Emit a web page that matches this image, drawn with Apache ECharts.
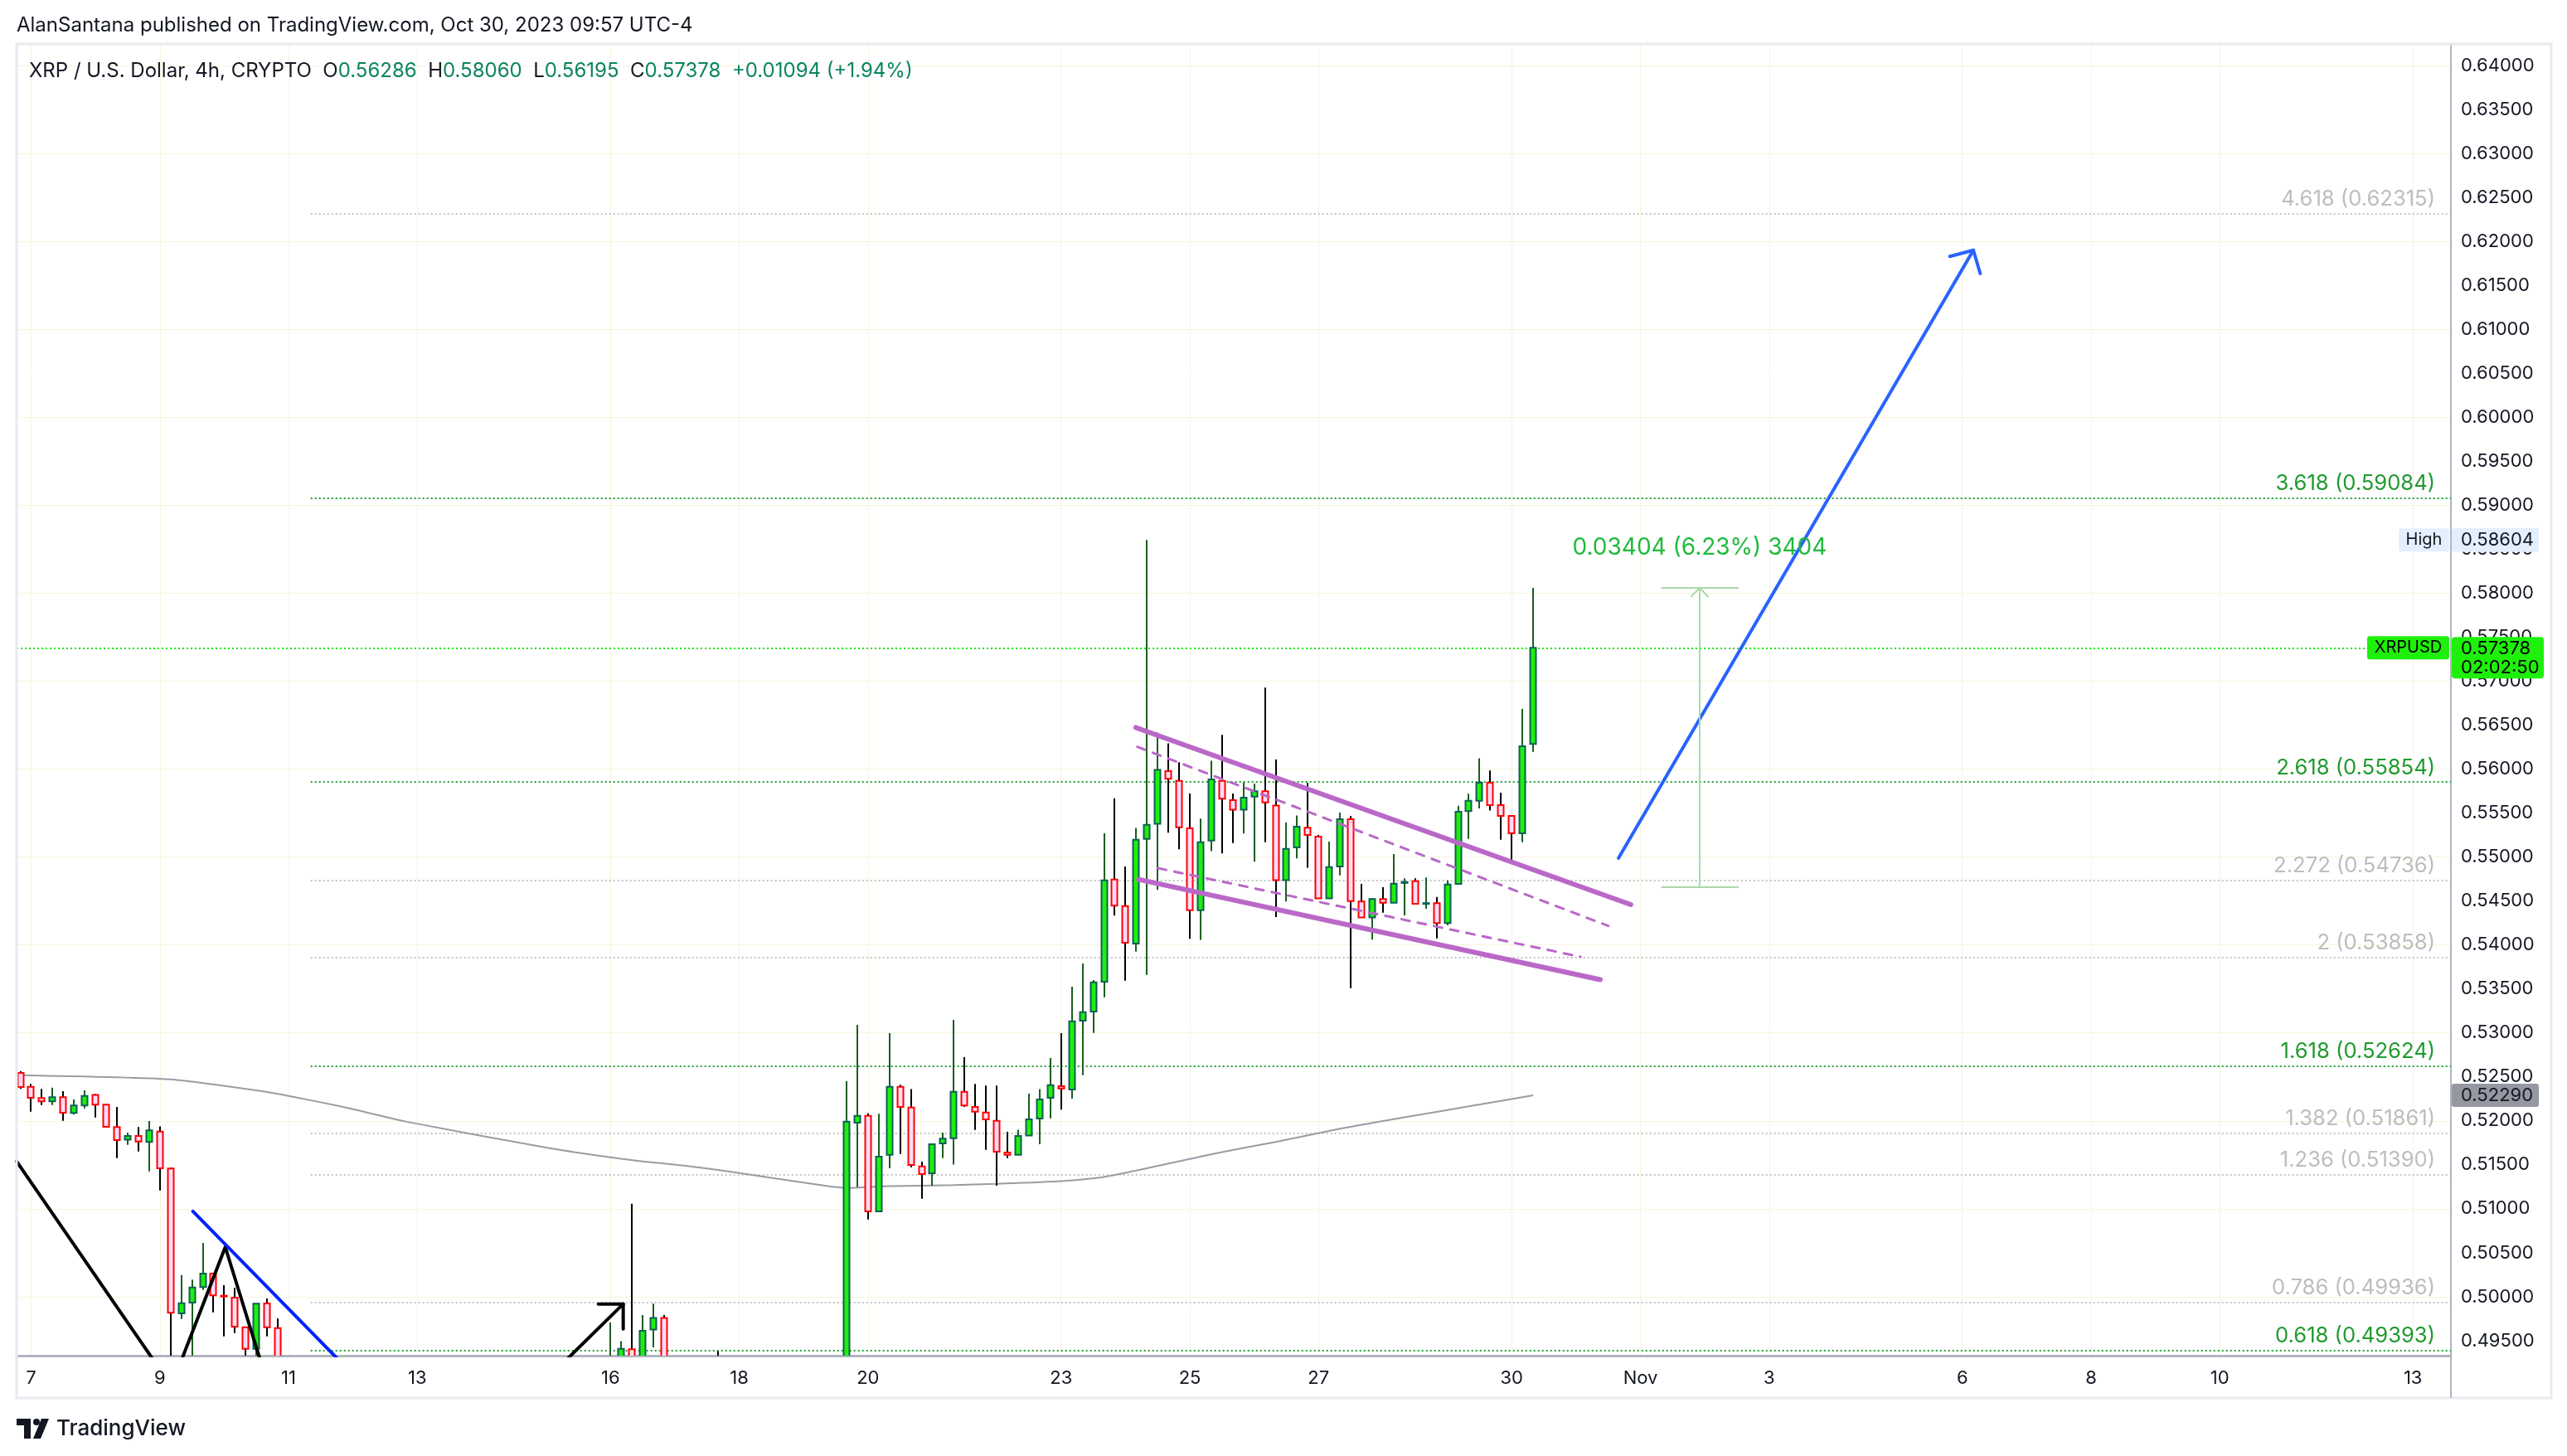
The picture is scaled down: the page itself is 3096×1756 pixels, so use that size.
<!DOCTYPE html>
<html><head><meta charset="utf-8">
<script src="https://cdn.jsdelivr.net/npm/echarts@6/dist/echarts.min.js"></script>
<style>html,body{margin:0;padding:0;background:#fff;}#c{width:3096px;height:1756px;}</style>
</head><body><div id="c"></div>
<script>
// ---------- DATA ----------
// 4h bars, local time UTC-4. Index 0 = Oct 7 00:00, first bar below = index -1 (Oct 6 20:00)
const firstIndex = -1;
// [open, high, low, close]
const ohlc = [
[0.52545,0.52567,0.52363,0.52385],[0.52388,0.52419,0.52105,0.52262],[0.52259,0.52363,0.52180,0.52221],
[0.52221,0.52378,0.52180,0.52268],[0.52268,0.52338,0.52001,0.52092],[0.52089,0.52243,0.52070,0.52174],
[0.52174,0.52347,0.52143,0.52284],[0.52294,0.52306,0.52039,0.52184],[0.52184,0.52190,0.51930,0.51932],
[0.51929,0.52158,0.51577,0.51781],[0.51787,0.51866,0.51728,0.51828],[0.51828,0.51929,0.51652,0.51765],
[0.51759,0.51998,0.51426,0.51891],[0.51879,0.51938,0.51209,0.51461],[0.51458,0.51467,0.49150,0.49817],
[0.49811,0.50247,0.49748,0.49927],[0.49933,0.50194,0.49250,0.50106],[0.50109,0.50612,0.50078,0.50263],
[0.50263,0.50265,0.49823,0.50015],[0.50012,0.50131,0.49550,0.50003],[0.49990,0.50100,0.49588,0.49660],
[0.49654,0.49656,0.49200,0.49408],[0.49408,0.49923,0.49180,0.49921],[0.49924,0.49980,0.49550,0.49654],
[0.49644,0.49754,0.49120,0.49210],
[0.4920,0.4926,0.4885,0.4895],[0.4895,0.4905,0.4858,0.4870],[0.4870,0.4890,0.4860,0.4878],
[0.4878,0.4888,0.4850,0.4862],[0.4862,0.4870,0.4825,0.4840],[0.4840,0.4865,0.4830,0.4852],
[0.4852,0.4860,0.4820,0.4835],[0.4835,0.4845,0.4800,0.4818],[0.4818,0.4842,0.4805,0.4830],
[0.4830,0.4838,0.4798,0.4812],[0.4812,0.4836,0.4802,0.4825],[0.4825,0.4855,0.4818,0.4845],
[0.4845,0.4860,0.4828,0.4838],[0.4838,0.4870,0.4830,0.4862],[0.4862,0.4885,0.4850,0.4875],
[0.4875,0.4890,0.4855,0.4868],[0.4868,0.4892,0.4860,0.4880],[0.4880,0.4895,0.4862,0.4872],
[0.4872,0.4898,0.4865,0.4885],[0.4885,0.4900,0.4868,0.4878],[0.4878,0.4905,0.4872,0.4890],
[0.4890,0.4902,0.4875,0.4882],[0.4882,0.4898,0.4874,0.4888],[0.4888,0.4896,0.4870,0.4880],
[0.4880,0.4895,0.4872,0.4886],[0.4886,0.4894,0.4868,0.4878],[0.4878,0.4893,0.4870,0.4884],
[0.4884,0.4905,0.4876,0.4892],[0.4892,0.4910,0.4880,0.4888],[0.4888,0.4915,0.4882,0.4895],
[0.4895,0.49707,0.4885,0.4915],[0.4915,0.49496,0.4905,0.49408],[0.49402,0.51058,0.4880,0.4915],
[0.4915,0.49792,0.4905,0.49612],[0.49628,0.49921,0.49424,0.49760],[0.49760,0.49792,0.4880,0.4905],
[0.4905,0.4915,0.4870,0.4885],[0.4885,0.4895,0.4860,0.4872],[0.4872,0.4890,0.4862,0.4880],
[0.4880,0.4888,0.4855,0.4868],[0.4878,0.49383,0.4855,0.4865],[0.4865,0.4875,0.4838,0.4850],
[0.4850,0.4860,0.4830,0.4842],[0.4842,0.4866,0.4835,0.4858],[0.4858,0.4865,0.4838,0.4846],
[0.4846,0.4855,0.4826,0.4838],[0.4838,0.4860,0.4830,0.4852],[0.4852,0.4862,0.4836,0.4845],
[0.4845,0.4870,0.4840,0.4860],[0.4860,0.4875,0.4845,0.4855],[0.4855,0.4885,0.4848,0.4870],
[0.4870,0.4915,0.4862,0.4905],
[0.49050,0.52450,0.48980,0.51991],[0.51979,0.53092,0.51247,0.52058],[0.52058,0.52086,0.50879,0.50970],
[0.50970,0.52080,0.50965,0.51592],[0.51614,0.52997,0.51460,0.52388],[0.52388,0.52410,0.51624,0.52158],
[0.52152,0.52362,0.51473,0.51498],[0.51482,0.51536,0.51115,0.51394],[0.51404,0.51736,0.51262,0.51734],
[0.51743,0.51866,0.51577,0.51797],[0.51803,0.53148,0.51504,0.52331],[0.52331,0.52724,0.52158,0.52174],
[0.52158,0.52419,0.51897,0.52105],[0.52095,0.52400,0.51671,0.52017],[0.52001,0.52400,0.51262,0.51649],
[0.51640,0.51875,0.51577,0.51614],[0.51614,0.51900,0.51612,0.51828],[0.51834,0.52309,0.51828,0.52017],
[0.52026,0.52362,0.51734,0.52243],[0.52262,0.52714,0.52029,0.52406],[0.52394,0.52997,0.52127,0.52369],
[0.52356,0.53525,0.52252,0.53132],[0.53138,0.53789,0.52519,0.53236],[0.53242,0.53600,0.52999,0.53575],
[0.53581,0.55269,0.53405,0.54735],[0.54744,0.55669,0.54333,0.54446],[0.54443,0.54892,0.53594,0.54025],
[0.54015,0.55332,0.53924,0.55197],[0.55206,0.58604,0.53660,0.55366],[0.55378,0.56415,0.54627,0.55990],
[0.55977,0.56293,0.55277,0.55889],[0.55866,0.56078,0.55088,0.55337],[0.55327,0.55721,0.54071,0.54394],
[0.54394,0.55438,0.54058,0.55169],[0.55186,0.56095,0.55068,0.55883],[0.55866,0.56388,0.55041,0.55664],
[0.55647,0.55721,0.55159,0.55539],[0.55539,0.55849,0.55267,0.55674],[0.55687,0.55832,0.54947,0.55748],
[0.55748,0.56927,0.55169,0.55620],[0.55586,0.56108,0.54317,0.54738],[0.54738,0.55395,0.54495,0.55092],
[0.55109,0.55472,0.54984,0.55344],[0.55334,0.55842,0.54879,0.55250],[0.55233,0.55250,0.54527,0.54529],
[0.54529,0.55176,0.54527,0.54886],[0.54892,0.55505,0.54792,0.55430],[0.55430,0.55468,0.53510,0.54500],
[0.54493,0.54694,0.54311,0.54313],[0.54313,0.54531,0.54060,0.54522],[0.54522,0.54657,0.54368,0.54480],
[0.54480,0.55034,0.54478,0.54698],[0.54705,0.54757,0.54336,0.54715],[0.54726,0.54757,0.54462,0.54468],
[0.54470,0.54767,0.54411,0.54476],[0.54475,0.54547,0.54075,0.54248],[0.54248,0.54735,0.54223,0.54688],
[0.54695,0.55584,0.54693,0.55515],[0.55521,0.55719,0.55207,0.55640],[0.55640,0.56124,0.55552,0.55845],
[0.55845,0.55983,0.55530,0.55590],[0.55590,0.55732,0.55197,0.55468],[0.55468,0.55470,0.54965,0.55270],
[0.55270,0.56684,0.55169,0.56260],[0.56286,0.58060,0.56195,0.57378]
];
// moving average: [bar index, value]
const maPoints = [[-1.352,0.52520],[13,0.52473],[21,0.52347],[24,0.52284],[29,0.52160],[35,0.51990],
[48,0.51696],[53,0.51602],[57,0.51539],[61,0.51489],[65,0.51426],[74,0.51262],[76,0.51237],[80,0.51258],
[86,0.51269],[90,0.51284],[96,0.51315],[100,0.51362],[103,0.51435],[108,0.51567],[111,0.51645],
[116,0.51760],[122,0.51910],[128,0.52040],[134,0.52165],[140,0.52290]];
const axisOriginDate = '2023-10-07';
const tickDates = ['2023-10-07','2023-10-09','2023-10-11','2023-10-13','2023-10-16','2023-10-18','2023-10-20',
'2023-10-23','2023-10-25','2023-10-27','2023-10-30','2023-11-01','2023-11-03','2023-11-06','2023-11-08',
'2023-11-10','2023-11-13'];
const tickLabels = ['7','9','11','13','16','18','20','23','25','27','30','Nov','3','6','8','10','13'];
const priceTicks = [0.495,0.500,0.505,0.510,0.515,0.520,0.525,0.530,0.535,0.540,0.545,0.550,0.555,0.560,
0.565,0.570,0.575,0.580,0.585,0.590,0.595,0.600,0.605,0.610,0.615,0.620,0.625,0.630,0.635,0.640];
const fibRatios = ['4.618','3.618','2.618','2.272','2','1.618','1.382','1.236','0.786','0.618'];
const fibPrices = [0.62315,0.59084,0.55854,0.54736,0.53858,0.52624,0.51861,0.51390,0.49936,0.49393];
const fibGreen  = [false,true,true,false,false,true,false,false,false,true];
const fibStartIndex = 26.06;
const lastPrice = 0.57378, highPrice = 0.58604, maLast = 0.52290;
// drawings in [bar index, price]
const blackLine1 = [[-1.352,0.51539],[12.45,0.49095]];
const blackZigzag = [[13.13,0.4900],[18.10,0.50565],[22.07,0.4900]];
const blueTrend = [[15.08,0.50971],[29.0,0.4924]];
const blackArrowShaft = [[49.5,0.49236],[55.19,0.49918]];
const blackArrowHead = [[52.87,0.49918],[55.19,0.49918],[55.19,0.49635]];
const channelUpper = [[102.97,0.56472],[149.1,0.54459]];
const channelLower = [[103.23,0.54745],[146.25,0.53606]];
const channelUpperDash = [[103.1,0.56253],[147.0,0.54217]];
const channelLowerDash = [[105.04,0.54873],[144.4,0.53866]];
const blueArrowShaft = [[147.95,0.54987],[181.03,0.61900]];
const blueArrowHead = [[178.84,0.61829],[181.03,0.61900],[181.67,0.61634]];
const measureX = 155.52, measureL = 152.0, measureR = 159.1, measureTop = 0.58060, measureBottom = 0.54656;
const measureText = '0.03404 (6.23%) 3404';

// ---------- BUILD ----------
const X_MIN = -1.352, X_MAX = 225.54, Y_MIN = 0.4933, Y_MAX = 0.64245;
const BAR = 4*3600e3;
const origin = Date.parse(axisOriginDate+'T00:00:00Z');
const tickIdx = tickDates.map(d => Math.round((Date.parse(d+'T00:00:00Z')-origin)/BAR));
const labelMap = {}; tickIdx.forEach((v,k)=>labelMap[v]=tickLabels[k]);

// [x, open, close, low, high]
const candleData = ohlc.map((d,k)=>[firstIndex+k, d[0], d[3], d[2], d[1]]);

const UP_FILL='#1ef00b', DN_FILL='#fadcf8', UP_BORDER='#0f5f57', DN_BORDER='#ff0000', UP_WICK='#1d5e20', DN_WICK='#000000';
const FIB_GREEN='#1f9a2e', FIB_GRAY='#bdbdbd';
const FONT='Inter';
const BODY_W = 7;

function renderCandle(params, api){
  const x = api.value(0), o = api.value(1), c = api.value(2), l = api.value(3), h = api.value(4);
  const pO = api.coord([x,o]), pC = api.coord([x,c]), pL = api.coord([x,l]), pH = api.coord([x,h]);
  const up = c >= o;
  const cx = Math.round(pO[0]);
  const top = Math.min(pO[1],pC[1]), hgt = Math.max(Math.abs(pO[1]-pC[1]), 1);
  return {type:'group', children:[
    {type:'line', shape:{x1:cx, y1:pH[1], x2:cx, y2:pL[1]}, style:{stroke: up?UP_WICK:DN_WICK, lineWidth:2}},
    {type:'rect', shape:{x:cx-BODY_W/2, y:top, width:BODY_W, height:hgt},
      style:{fill: up?UP_FILL:DN_FILL, stroke: up?UP_BORDER:DN_BORDER, lineWidth:2}}
  ]};
}

const fibMarks = fibPrices.map((p,k)=>[
  {coord:[fibStartIndex,p], lineStyle:{color: fibGreen[k]?'#22a032':'#c4c4c4', width:2, type:[2,3]},
   label:{show:true, position:'insideEndTop', distance:[19,4], formatter: fibRatios[k]+' ('+p.toFixed(5)+')',
     color: fibGreen[k]?FIB_GREEN:FIB_GRAY, fontSize:25.6, fontFamily:FONT}},
  {coord:[X_MAX,p]}
]);

function drawLine(data, color, width, type, z){
  return {type:'line', data, symbol:'none', silent:true, z: z||10, clip:true,
    lineStyle:{color, width, type: type||'solid', cap:'round', join:'round'}};
}

const chart = echarts.init(document.getElementById('c'), null, {renderer:'canvas'});
const option = {
  animation:false,
  backgroundColor:'#ffffff',
  grid:{left:20, top:53, width:2936, height:1582, outerBoundsMode:'none'},
  xAxis:{type:'value', min:X_MIN, max:X_MAX,
    axisLine:{show:true, onZero:false, lineStyle:{color:'#b2b5be', width:3}},
    axisTick:{show:false}, splitLine:{show:false},
    axisLabel:{customValues: tickIdx, formatter: v => labelMap[Math.round(v)] || '', color:'#131722',
      fontSize:22, fontFamily:FONT, margin:16}},
  yAxis:{type:'value', position:'right', min:Y_MIN, max:Y_MAX, scale:true,
    axisLine:{show:true, onZero:false, lineStyle:{color:'#b2b5be', width:2}},
    axisTick:{show:false}, splitLine:{show:false},
    axisLabel:{customValues: priceTicks, formatter: v => v.toFixed(5), color:'#131722', fontSize:22,
      fontFamily:FONT, margin:12}},
  series:[
    {type:'line', data:[], silent:true, z:0,
      markLine:{silent:true, symbol:['none','none'], z:0, animation:false,
        lineStyle:{color:'#f7f3de', width:1, type:'solid'}, label:{show:false},
        data: priceTicks.map(v=>({yAxis:v})).concat(tickIdx.map(v=>({xAxis:v})))}},
    {type:'line', data:[], silent:true, z:1,
      markLine:{silent:true, symbol:['none','none'], z:1, animation:false, data: fibMarks.concat([
        [{coord:[X_MIN,lastPrice], lineStyle:{color:'#1ee60a', width:2, type:[2,3]}, label:{show:false}},{coord:[X_MAX,lastPrice]}]
      ])}},
    {type:'line', name:'MA', data: maPoints, symbol:'none', silent:true, z:3, smooth:0.2,
      lineStyle:{color:'#9a9ca4', width:2}},
    {type:'custom', name:'XRPUSD', data: candleData, renderItem: renderCandle, clip:true, silent:true, z:5,
      encode:{x:0, y:[1,2,3,4]}},
    drawLine(blackLine1,'#000000',4),
    drawLine(blackZigzag,'#000000',4),
    drawLine(blueTrend,'#0022ff',4),
    drawLine(blackArrowShaft,'#000000',4),
    drawLine(blackArrowHead,'#000000',4),
    drawLine(channelUpperDash,'#ba68c8',3,[10,10]),
    drawLine(channelLowerDash,'#ba68c8',3,[10,10]),
    drawLine(channelUpper,'#ba68c8',6),
    drawLine(channelLower,'#ba68c8',6),
    drawLine(blueArrowShaft,'#2962ff',4),
    drawLine(blueArrowHead,'#2962ff',4),
    drawLine([[measureX,measureBottom],[measureX,measureTop]],'#a9d9ab',2),
    drawLine([[measureL,measureTop],[measureR,measureTop]],'#a9d9ab',2),
    drawLine([[measureL,measureBottom],[measureR,measureBottom]],'#a9d9ab',2)
  ]
};
chart.setOption(option);

// ---------- ANNOTATIONS (positions from the chart's own scales) ----------
const P = (i,p)=>chart.convertToPixel({gridIndex:0},[i,p]);
const yHigh = P(0,highPrice)[1], yLast = P(0,lastPrice)[1], yMa = P(0,maLast)[1];
const axisX = P(X_MAX,Y_MIN)[0], gridBottom = P(X_MAX,Y_MIN)[1];
const mTop = P(measureX, measureTop), mHeadL = P(measureX-0.83, measureTop-0.00104), mHeadR = P(measureX+0.83, measureTop-0.00104);
const TXT='#131722';
const graphic = [
  {type:'rect', shape:{x:20,y:53,width:3057,height:1633}, style:{fill:'none', stroke:'#e9eaef', lineWidth:3}, z:100, silent:true},
  {type:'line', shape:{x1:axisX,y1:gridBottom,x2:axisX,y2:1686}, style:{stroke:'#b2b5be', lineWidth:2}, z:100, silent:true},
  {type:'text', x:20, y:31, style:{text:'AlanSantana published on TradingView.com, Oct 30, 2023 09:57 UTC-4',
    fill:TXT, font:'24px '+FONT, verticalAlign:'middle'}, z:100},
  {type:'text', x:35, y:86, style:{
    text:'{d|XRP / U.S. Dollar, 4h, CRYPTO  O}{g|0.56286}{d|  H}{g|0.58060}{d|  L}{g|0.56195}{d|  C}{g|0.57378}{g|  +0.01094 (+1.94%)}',
    verticalAlign:'middle', rich:{d:{fill:TXT, font:'24px '+FONT}, g:{fill:'#0a8462', font:'24px '+FONT}}}, z:100},
  // measure arrow head + label
  {type:'polyline', shape:{points:[mHeadL, mTop, mHeadR]}, style:{stroke:'#a9d9ab', lineWidth:2, fill:'none'}, z:100},
  {type:'text', x:mTop[0], y:mTop[1]-48, style:{text:measureText, fill:'#1fbb3c', font:'28px '+FONT,
    align:'center', verticalAlign:'middle'}, z:100},
  // High tag
  {type:'rect', shape:{x:2893,y:yHigh-14,width:61,height:28,r:3}, style:{fill:'#e3effd'}, z:100},
  {type:'text', x:2923.5, y:yHigh, style:{text:'High', fill:TXT, font:'20px '+FONT, align:'center', verticalAlign:'middle'}, z:101},
  {type:'rect', shape:{x:axisX+1,y:yHigh-14.5,width:105,height:29,r:3}, style:{fill:'#e3effd'}, z:100},
  {type:'text', x:axisX+12, y:yHigh, style:{text:highPrice.toFixed(5), fill:TXT, font:'22px '+FONT, verticalAlign:'middle'}, z:101},
  // last price tags
  {type:'rect', shape:{x:2855,y:yLast-14,width:99,height:28,r:3}, style:{fill:UP_FILL}, z:100},
  {type:'text', x:2904.5, y:yLast, style:{text:'XRPUSD', fill:'#000000', font:'20px '+FONT, align:'center', verticalAlign:'middle'}, z:101},
  {type:'rect', shape:{x:axisX+1,y:yLast-13,width:111,height:50,r:4}, style:{fill:UP_FILL}, z:100},
  {type:'text', x:axisX+12, y:yLast+1, style:{text:lastPrice.toFixed(5), fill:'#000000', font:'22px '+FONT, verticalAlign:'middle'}, z:101},
  {type:'text', x:axisX+12, y:yLast+24, style:{text:'02:02:50', fill:'#000000', font:'22px '+FONT, verticalAlign:'middle'}, z:101},
  // MA tag
  {type:'rect', shape:{x:axisX+1,y:yMa-14,width:105,height:28,r:3}, style:{fill:'#9598a1'}, z:100},
  {type:'text', x:axisX+12, y:yMa, style:{text:maLast.toFixed(5), fill:TXT, font:'22px '+FONT, verticalAlign:'middle'}, z:101},
  // footer logo
  {type:'rect', shape:{x:20,y:1711,width:17,height:8}, style:{fill:TXT}, z:100},
  {type:'rect', shape:{x:29,y:1711,width:8,height:24}, style:{fill:TXT}, z:100},
  {type:'circle', shape:{cx:44,cy:1715,r:4}, style:{fill:TXT}, z:100},
  {type:'polygon', shape:{points:[[50,1711],[59,1711],[49,1735],[40,1735]]}, style:{fill:TXT}, z:100},
  {type:'text', x:68, y:1723, style:{text:'TradingView', fill:TXT, font:'500 26px '+FONT, verticalAlign:'middle'}, z:100}
];
chart.setOption({graphic});
</script>
</body></html>
